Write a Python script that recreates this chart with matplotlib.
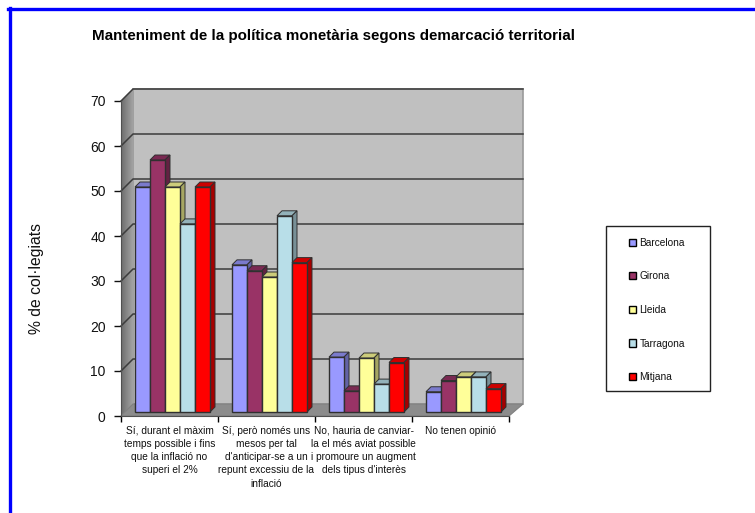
import matplotlib
matplotlib.use("Agg")
import matplotlib.pyplot as plt
from matplotlib.lines import Line2D
from matplotlib.patches import Patch, Polygon, Rectangle
from matplotlib.transforms import IdentityTransform
import numpy as np

plt.rcParams['font.family'] = ['Liberation Sans', 'DejaVu Sans']

title = "Manteniment de la política monetària segons demarcació territorial"
ylabel = "% de col·legiats"
categories = [
    "Sí, durant el màxim\ntemps possible i fins\nque la inflació no\nsuperi el 2%",
    "Sí, però només uns\nmesos per tal\nd'anticipar-se a un\nrepunt excessiu de la\ninflació",
    "No, hauria de canviar-\nla el més aviat possible\ni promoure un augment\ndels tipus d'interès",
    "No tenen opinió",
]
series = ["Barcelona", "Girona", "Lleida", "Tarragona", "Mitjana"]
barcelona = [50, 32.7, 12.2, 4.5]
girona = [56, 31.4, 4.7, 7]
lleida = [50, 30, 12, 7.8]
tarragona = [41.8, 43.6, 6.2, 7.8]
mitjana = [50, 33.2, 11, 5.2]
values = [barcelona, girona, lleida, tarragona, mitjana]
colors = ["#9999ff", "#993366", "#ffff99", "#b8dee8", "#ff0000"]
yticks = [0, 10, 20, 30, 40, 50, 60, 70]

W, H = 755, 513
depth = 12       # wall depth in px
bar_dx, bar_dy = 3, 4
bar_d = 5

fig = plt.figure(figsize=(W / 100, H / 100), dpi=100)
ax = fig.add_axes([121 / W, (H - 416) / H, 388 / W, 315 / H])
ax.set_xlim(0, 4)
ax.set_ylim(0, 70)
ax.patch.set_visible(False)
for s in ["top", "right"]:
    ax.spines[s].set_visible(False)
for s in ["left", "bottom"]:
    ax.spines[s].set_color("#505050")
    ax.spines[s].set_zorder(20)


def px(x, y):
    return ax.transData.transform((x, y))


def poly(points, color, edge="none", lw=0.0, z=1):
    ax.add_patch(Polygon(points, closed=True, facecolor=color, edgecolor=edge, linewidth=lw,
                         transform=IdentityTransform(), clip_on=False, zorder=z))


def shade(color, k):
    return tuple(c * k for c in matplotlib.colors.to_rgb(color))


# walls and floor
x0, y0 = px(0, 0)
x1, y1 = px(4, 70)
poly([(x0 + depth, y0 + depth), (x1 + depth + 2, y0 + depth), (x1 + depth + 2, y1 + depth), (x0 + depth, y1 + depth)],
     "#c0c0c0", "#9a9a9a", 1.2)
# left wall, darker towards the front
for k in range(depth):
    g = 0.43 + 0.018 * k
    poly([(x0 + k, y0 + k), (x0 + k + 1.3, y0 + k + 1.3), (x0 + k + 1.3, y1 + k + 1.3), (x0 + k, y1 + k)], (g, g, g))
poly([(x0, y0), (x1, y0), (x1 + depth + 2, y0 + depth), (x0 + depth, y0 + depth)], "#8c8c8c", "#808080", 0.8)

for v in yticks[1:]:
    x, y = px(0, v)
    ax.add_line(Line2D([x, x + depth, x1 + depth + 2], [y, y + depth, y + depth], color="#3c3c3c", lw=1.1,
                       transform=IdentityTransform(), clip_on=False, zorder=2))

# bars
bar_w = 15 / 97
gap = 11 / 97
for i in range(len(categories)):
    for j, vals in enumerate(values):
        left = i + gap + j * bar_w
        a = px(left, 0) + (bar_dx, bar_dy)
        b = px(left + bar_w, vals[i]) + (bar_dx, bar_dy)
        z = 5 + i + j * 0.1
        c = colors[j]
        poly([(a[0], a[1]), (b[0], a[1]), (b[0], b[1]), (a[0], b[1])], c, "#303030", 1.0, z)
        poly([(a[0], b[1]), (b[0], b[1]), (b[0] + bar_d, b[1] + bar_d), (a[0] + bar_d, b[1] + bar_d)],
             shade(c, 0.8), "#303030", 0.7, z - 0.01)
        poly([(b[0], a[1]), (b[0] + bar_d, a[1] + bar_d), (b[0] + bar_d, b[1] + bar_d), (b[0], b[1])],
             shade(c, 0.65), "#303030", 0.7, z - 0.01)

ax.set_yticks(yticks)
ax.tick_params(axis="y", labelsize=10, length=5, width=1, pad=6, colors="#111111")
ax.set_xticks(np.arange(5))
ax.set_xticklabels([])
ax.tick_params(axis="x", which="major", length=4, width=1)
ax.set_xticks(np.arange(4) + 0.5, minor=True)
ax.set_xticklabels(categories, minor=True, fontsize=7.3, linespacing=1.4, va="top", color="#111111")
ax.tick_params(axis="x", which="minor", length=0, pad=7)

fig.text(333.5 / W, 1 - 36 / H, title, fontsize=10.9, fontweight="bold", ha="center", va="center", color="black")
fig.text(37 / W, 1 - 279 / H, ylabel, fontsize=11.3, rotation=90, ha="center", va="center", color="#111111")

# legend frame and entries
fig.add_artist(Rectangle((605.5 / W, 1 - 390.5 / H), 104 / W, 165 / H, transform=fig.transFigure,
                         facecolor="white", edgecolor="#222222", linewidth=1.0))
handles = [Patch(facecolor=c, edgecolor="black", linewidth=1.0) for c in colors]
leg = fig.legend(handles, series, loc="center", bbox_to_anchor=(657 / W, 1 - 310 / H), frameon=False,
                 fontsize=7.3, handlelength=0.7, handleheight=0.7, handletextpad=0.3, labelspacing=2.32,
                 labelcolor="#111111")
leg.set_zorder(10)

# blue border, top and left only
fig.add_artist(Line2D([9.5 / W, 9.5 / W], [0, 1 - 8 / H], color="#0000ff", lw=2.4, transform=fig.transFigure))
fig.add_artist(Line2D([8 / W, 1], [1 - 9 / H, 1 - 9 / H], color="#0000ff", lw=2.4, transform=fig.transFigure))

fig.savefig("out.png", dpi=100)
